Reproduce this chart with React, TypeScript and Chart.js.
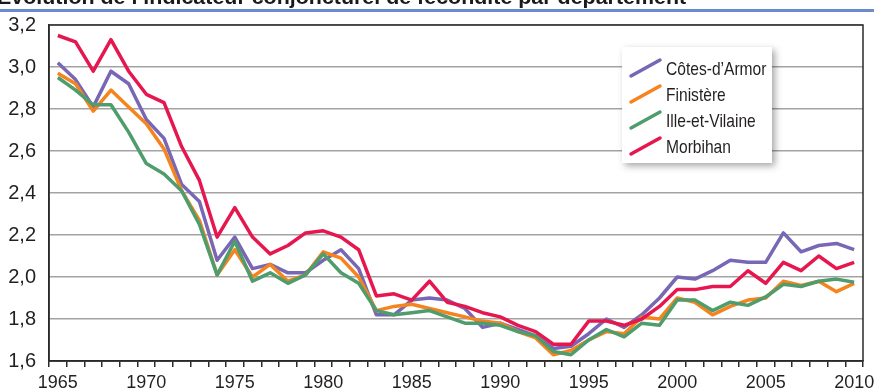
import React, { useEffect, useRef } from 'react';
import { Chart, registerables } from 'chart.js';

Chart.register(...registerables);

const years = [
  '1965', '1966', '1967', '1968', '1969', '1970', '1971', '1972', '1973', '1974',
  '1975', '1976', '1977', '1978', '1979', '1980', '1981', '1982', '1983', '1984',
  '1985', '1986', '1987', '1988', '1989', '1990', '1991', '1992', '1993', '1994',
  '1995', '1996', '1997', '1998', '1999', '2000', '2001', '2002', '2003', '2004',
  '2005', '2006', '2007', '2008', '2009', '2010',
];

const shownYears = ['1965', '1970', '1975', '1980', '1985', '1990', '1995', '2000', '2005', '2010'];

const cotesDArmor = [
  3.02, 2.94, 2.81, 2.98, 2.92, 2.75, 2.66, 2.44, 2.36, 2.08,
  2.19, 2.04, 2.06, 2.02, 2.02, 2.08, 2.13, 2.04, 1.82, 1.82,
  1.89, 1.90, 1.89, 1.85, 1.76, 1.78, 1.75, 1.72, 1.66, 1.67,
  1.73, 1.80, 1.76, 1.82, 1.90, 2.00, 1.99, 2.03, 2.08, 2.07,
  2.07, 2.21, 2.12, 2.15, 2.16, 2.13,
];

const finistere = [
  2.97, 2.92, 2.79, 2.89, 2.81, 2.73, 2.61, 2.41, 2.27, 2.01,
  2.13, 2.00, 2.06, 1.98, 2.01, 2.12, 2.09, 2.00, 1.84, 1.86,
  1.87, 1.85, 1.83, 1.81, 1.79, 1.78, 1.74, 1.71, 1.63, 1.65,
  1.70, 1.74, 1.73, 1.81, 1.80, 1.90, 1.88, 1.82, 1.86, 1.89,
  1.90, 1.98, 1.96, 1.98, 1.93, 1.97,
];

const illeEtVilaine = [
  2.95, 2.89, 2.82, 2.82, 2.69, 2.54, 2.49, 2.41, 2.25, 2.01,
  2.17, 1.98, 2.02, 1.97, 2.01, 2.11, 2.02, 1.97, 1.84, 1.82,
  1.83, 1.84, 1.81, 1.78, 1.78, 1.77, 1.74, 1.72, 1.645, 1.63,
  1.70, 1.75, 1.715, 1.78, 1.77, 1.89, 1.89, 1.84, 1.88, 1.865,
  1.905, 1.965, 1.955, 1.98, 1.99, 1.975,
];

const morbihan = [
  3.15, 3.12, 2.98, 3.13, 2.98, 2.87, 2.83, 2.62, 2.46, 2.19,
  2.33, 2.19, 2.11, 2.15, 2.21, 2.22, 2.19, 2.13, 1.91, 1.92,
  1.89, 1.98, 1.88, 1.86, 1.83, 1.81, 1.77, 1.74, 1.68, 1.68,
  1.79, 1.79, 1.77, 1.80, 1.86, 1.94, 1.94, 1.955, 1.955, 2.03,
  1.97, 2.07, 2.03, 2.10, 2.04, 2.07,
];

const seriesLabels = ['Côtes-d’Armor', 'Finistère', 'Ille-et-Vilaine', 'Morbihan'];
const seriesValues = [cotesDArmor, finistere, illeEtVilaine, morbihan];
const seriesColors = ['#7767b5', '#f5841f', '#4f9c6c', '#e6174f'];
const drawOrder = [4, 3, 2, 1];

const yMin = 1.6;
const yMax = 3.2;
const yStep = 0.2;

const titleText = 'Évolution de l’indicateur conjoncturel de fécondité par département';

const FONT = "'Liberation Sans Narrow', 'Arial Narrow', 'Liberation Sans', Arial, sans-serif";
const TEXT_COLOR = '#231f20';
const FRAME_COLOR = '#2a2a2a';

const framePlugin = {
  id: 'frame',
  beforeDatasetsDraw(chart: any) {
    const { ctx, chartArea } = chart;
    ctx.save();
    ctx.strokeStyle = FRAME_COLOR;
    ctx.lineWidth = 1.5;
    ctx.strokeRect(chartArea.left, chartArea.top, chartArea.right - chartArea.left, chartArea.bottom - chartArea.top);
    ctx.restore();
  },
};

const headerPlugin = {
  id: 'header',
  afterDraw(chart: any) {
    const { ctx, width } = chart;
    ctx.save();
    ctx.fillStyle = '#1a1a1a';
    ctx.font = "bold 21px 'Liberation Sans', Arial, sans-serif";
    ctx.textBaseline = 'alphabetic';
    ctx.textAlign = 'left';
    ctx.save();
    ctx.translate(-3, 4);
    ctx.scale(1.02, 1);
    ctx.fillText(titleText, 0, 0);
    ctx.restore();
    ctx.fillStyle = '#6a8ccc';
    ctx.fillRect(0, 9, width, 3);
    ctx.restore();
  },
};

const legendPlugin = {
  id: 'customLegend',
  afterDraw(chart: any) {
    const { ctx } = chart;
    const bx = 622;
    const by = 47;
    const bw = 150;
    const bh = 116;
    ctx.save();
    ctx.shadowColor = 'rgba(0,0,0,0.35)';
    ctx.shadowBlur = 7;
    ctx.shadowOffsetX = 3;
    ctx.shadowOffsetY = 3;
    ctx.fillStyle = '#ffffff';
    ctx.fillRect(bx, by, bw, bh);
    ctx.restore();

    ctx.save();
    ctx.font = `19px ${FONT}`;
    ctx.textBaseline = 'middle';
    ctx.textAlign = 'left';
    chart.data.datasets.forEach((ds: any, i: number) => {
      const cy = 70 + i * 26;
      ctx.strokeStyle = ds.borderColor;
      ctx.lineWidth = 3.5;
      ctx.lineCap = 'round';
      ctx.beginPath();
      ctx.moveTo(631, cy + 6);
      ctx.lineTo(660, cy - 10);
      ctx.stroke();
      ctx.fillStyle = TEXT_COLOR;
      ctx.save();
      ctx.translate(666, cy);
      ctx.scale(0.82, 1);
      ctx.fillText(ds.label, 0, 0);
      ctx.restore();
    });
    ctx.restore();
  },
};

export default function App() {
  const canvasRef = useRef<HTMLCanvasElement>(null);

  useEffect(() => {
    document.body.style.margin = '0';
    const canvas = canvasRef.current;
    if (!canvas) return;

    const chart = new Chart(canvas, {
      type: 'line',
      data: {
        labels: years,
        datasets: seriesLabels.map((label, i) => ({
          label,
          data: seriesValues[i],
          borderColor: seriesColors[i],
          backgroundColor: seriesColors[i],
          borderWidth: 3.5,
          pointRadius: 0,
          tension: 0,
          fill: false,
          order: drawOrder[i],
          borderJoinStyle: 'round' as const,
        })),
      },
      options: {
        responsive: false,
        animation: false,
        devicePixelRatio: 1,
        layout: { padding: { left: 0, right: 11, top: 23, bottom: 0 } },
        plugins: {
          legend: { display: false },
          title: { display: false },
          tooltip: { enabled: false },
        },
        scales: {
          x: {
            type: 'category',
            offset: true,
            grid: {
              offset: true,
              drawOnChartArea: false,
              drawTicks: true,
              tickLength: 6,
              color: FRAME_COLOR,
              lineWidth: 1.5,
            },
            border: { display: true, color: FRAME_COLOR, width: 1.5 },
            ticks: {
              autoSkip: false,
              maxRotation: 0,
              minRotation: 0,
              padding: 5,
              color: TEXT_COLOR,
              font: { family: FONT, size: 18 },
              callback: (_v: any, index: number) => (shownYears.includes(years[index]) ? years[index] : ''),
            },
            afterFit: (s: any) => {
              s.height = 31;
              s.paddingLeft = 0;
              s.paddingRight = 0;
            },
          },
          y: {
            min: yMin,
            max: yMax,
            grid: {
              drawTicks: false,
              color: '#a3a3a3',
              lineWidth: 1.5,
            },
            border: { display: true, color: FRAME_COLOR, width: 1.5 },
            ticks: {
              stepSize: yStep,
              padding: 13,
              color: TEXT_COLOR,
              font: { family: FONT, size: 20 },
              callback: (v: any) => Number(v).toFixed(1).replace('.', ','),
            },
            afterFit: (s: any) => {
              s.width = 49;
            },
          },
        },
      },
      plugins: [framePlugin, legendPlugin, headerPlugin],
    });

    return () => chart.destroy();
  }, []);

  return (
    <div style={{ width: 874, height: 392 }}>
      <canvas ref={canvasRef} width={874} height={392} style={{ display: 'block' }} />
    </div>
  );
}
